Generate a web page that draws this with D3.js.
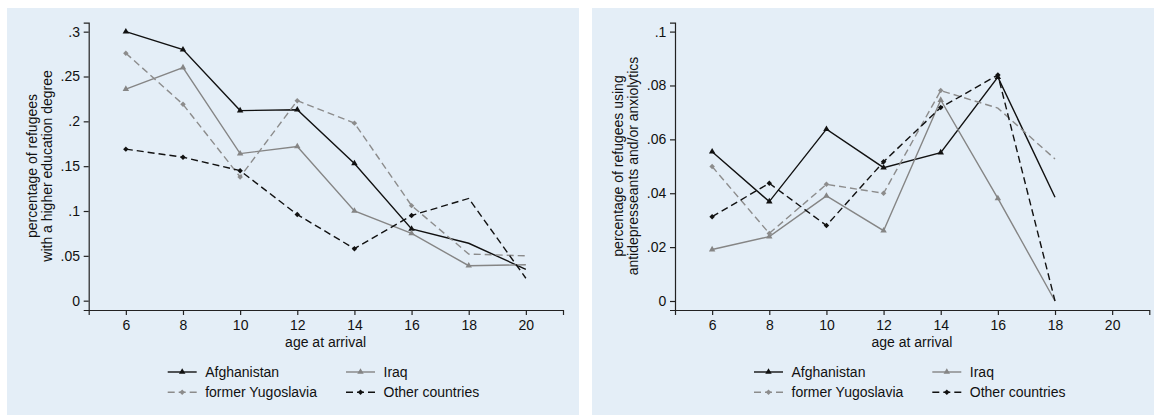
<!DOCTYPE html>
<html>
<head>
<meta charset="utf-8">
<script src="https://cdn.jsdelivr.net/npm/d3@7"></script>
<style>
  body { margin: 0; background: #fff; }
  svg { display: block; font-family: "Liberation Sans", Arial, sans-serif; }
</style>
</head>
<body>
<svg id="chart" width="1154" height="416"></svg>
<script>
// age at arrival
const ages = [6, 8, 10, 12, 14, 16, 18, 20]
const countries = ["Afghanistan", "Iraq", "former Yugoslavia", "Other countries"]

// share with a higher education degree
const eduAfghanistan = [0.300, 0.280, 0.212, 0.213, 0.153, 0.080, 0.064, 0.035]
const eduIraq = [0.236, 0.260, 0.164, 0.172, 0.100, 0.075, 0.039, 0.040]
const eduYugoslavia = [0.276, 0.219, 0.138, 0.223, 0.198, 0.106, 0.052, 0.050]
const eduOther = [0.169, 0.160, 0.145, 0.096, 0.058, 0.095, 0.114, 0.025]

// share using antidepressants and/or anxiolytics (nothing at 20)
const medAfghanistan = [0.0554, 0.0369, 0.0638, 0.0495, 0.0551, 0.0831, 0.0385, null]
const medIraq = [0.0191, 0.0239, 0.0390, 0.0261, 0.0746, 0.0381, 0.0, null]
const medYugoslavia = [0.0499, 0.0251, 0.0433, 0.0400, 0.0781, 0.0716, 0.0527, null]
const medOther = [0.0313, 0.0437, 0.0280, 0.0517, 0.0718, 0.0839, 0.0, null]

// ages where a marker is drawn
const eduMarked = [[6, 8, 10, 12, 14, 16], [6, 8, 10, 12, 14, 16, 18], [6, 8, 10, 12, 14, 16], [6, 8, 10, 12, 14, 16]]
const medMarked = [[6, 8, 10, 12, 14, 16], [6, 8, 10, 12, 14, 16], [6, 8, 10, 12, 14], [6, 8, 10, 12, 14, 16]]

const eduTicks = [0, 0.05, 0.1, 0.15, 0.2, 0.25, 0.3]
const medTicks = [0, 0.02, 0.04, 0.06, 0.08, 0.1]

const styles = [
  { color: "#111", dash: null, shape: "triangle" },
  { color: "#858585", dash: null, shape: "triangle" },
  { color: "#8c8c8c", dash: "7,4", shape: "diamond" },
  { color: "#111", dash: "7,4", shape: "diamond" }
]

const svg = d3.select("#chart")
const fmt = d => d === 0 ? "0" : d3.format("")(d).replace(/^0/, "")

// triangle or a square turned 45 degrees
function marker(sel, st, cx, cy) {
  const isDiamond = st.shape === "diamond"
  return sel.append("path")
    .attr("d", d3.symbol().type(isDiamond ? d3.symbolSquare : d3.symbolTriangle).size(isDiamond ? 15 : 18))
    .attr("transform", `translate(${cx},${cy})` + (isDiamond ? " rotate(45)" : ""))
    .attr("fill", st.color)
}

function panel(opts) {
  const g = svg.append("g")
  g.append("rect")
    .attr("x", opts.bg[0]).attr("y", 8)
    .attr("width", opts.bg[1] - opts.bg[0]).attr("height", 407)
    .attr("fill", "#e4eef7")

  const x = d3.scaleLinear().domain([4.7, 21.3]).range([opts.left, opts.left + 474.3])
  const y = d3.scaleLinear().domain(opts.yDomain).range([310, 22.7])

  const yAxis = g.append("g")
    .attr("transform", `translate(${opts.left},0)`)
    .call(d3.axisLeft(y).tickValues(opts.ticks).tickFormat(fmt).tickSizeOuter(0).tickSize(5).tickPadding(3.7))
  const xAxis = g.append("g")
    .attr("transform", "translate(0,310)")
    .call(d3.axisBottom(x).tickValues(ages).tickSizeOuter(0).tickSize(5).tickPadding(5.5))
  ;[yAxis, xAxis].forEach(a => {
    a.selectAll("path, line").attr("stroke", "#222").attr("stroke-width", 1.2)
    a.selectAll("text").attr("fill", "#111").style("font-size", "14px")
  })

  g.append("text")
    .attr("x", x(12.99)).attr("y", 346.5)
    .attr("text-anchor", "middle").style("font-size", "14px").attr("fill", "#111")
    .text("age at arrival")

  opts.title.forEach((t, i) => {
    g.append("text")
      .attr("transform", `translate(${opts.left - 57 + i * 15},166) rotate(-90)`)
      .attr("text-anchor", "middle").attr("dy", "0.35em")
      .style("font-size", "14px").attr("fill", "#111")
      .text(t)
  })

  const line = d3.line()
    .defined(d => d.v != null)
    .x(d => x(d.age)).y(d => y(d.v))

  opts.series.forEach((vals, i) => {
    const st = styles[i]
    const pts = ages.map((age, j) => ({ age, v: vals[j] }))
    g.append("path")
      .attr("d", line(pts))
      .attr("fill", "none")
      .attr("stroke", st.color)
      .attr("stroke-width", 1.4)
      .attr("stroke-dasharray", st.dash)
    pts.filter(p => p.v != null && opts.marked[i].includes(p.age))
      .forEach(p => marker(g, st, x(p.age), y(p.v)))
  })

  // legend, two columns
  countries.forEach((name, i) => {
    const st = styles[i]
    const lx = opts.left + (i % 2 ? 257.3 : 79)
    const ly = 372 + Math.floor(i / 2) * 20.3
    g.append("line")
      .attr("x1", lx).attr("x2", lx + 29).attr("y1", ly).attr("y2", ly)
      .attr("stroke", st.color).attr("stroke-width", 1.4)
      .attr("stroke-dasharray", st.dash)
    marker(g, st, lx + 14.5, ly)
    g.append("text")
      .attr("x", lx + 37.5).attr("y", ly).attr("dy", "0.35em")
      .style("font-size", "14px").attr("fill", "#111")
      .text(name)
  })
}

panel({
  bg: [7, 579], left: 88.7,
  yDomain: [-0.0104, 0.31], ticks: eduTicks,
  title: ["percentage of refugees", "with a higher education degree"],
  series: [eduAfghanistan, eduIraq, eduYugoslavia, eduOther],
  marked: eduMarked
})

panel({
  bg: [592, 1154], left: 675,
  yDomain: [-0.00334, 0.1033], ticks: medTicks,
  title: ["percentage of refugees using", "antidepresseants and/or anxiolytics"],
  series: [medAfghanistan, medIraq, medYugoslavia, medOther],
  marked: medMarked
})
</script>
</body>
</html>
